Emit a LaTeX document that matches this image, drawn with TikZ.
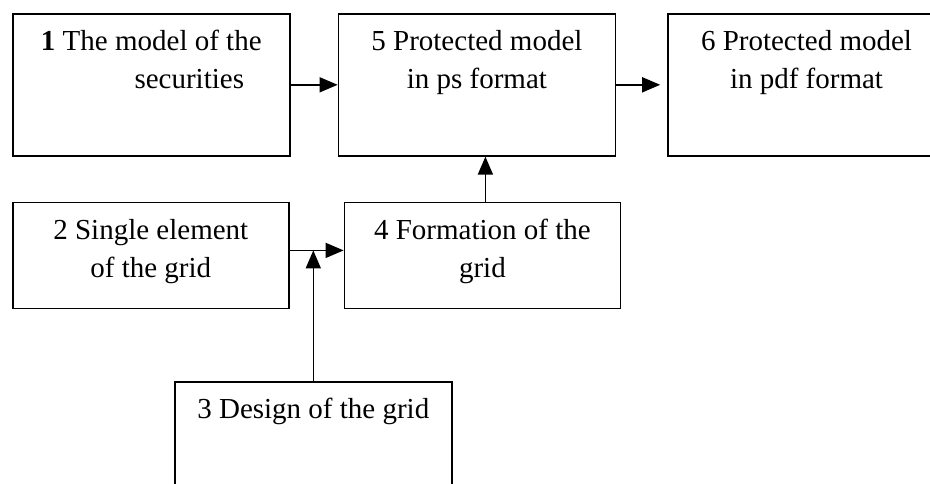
\documentclass[tikz,border=0pt]{standalone}
\usepackage{fontspec}
\setmainfont{Liberation Serif}
\usetikzlibrary{positioning,arrows.meta}
\tikzset{%
  block/.style = {rectangle,draw,line width=0.8pt,minimum width=138.5pt,
        minimum height=71pt,inner sep=0pt,anchor=north west},
  lowblock/.style = {block,minimum width=138pt,minimum height=53pt},
  intext/.style = {anchor=north,inner sep=0pt,yshift=-8.5pt,align=center,
        font=\fontsize{14.5pt}{19pt}\selectfont},
  flowarrow/.style = {-{Triangle[length=9pt,width=7.5pt]},line width=0.8pt}
}
\begin{document}
\begin{tikzpicture}
\useasboundingbox (0,0) rectangle (465pt,-241.5pt);
\node[block,label={[intext]north:{\textbf{1} The model of the\\\hspace*{38pt}securities}}] (model) at (6pt,-6.5pt) {};
\node[block,right=23.5pt of model,label={[intext]north:{5 Protected model\\in ps format}}] (psmodel) {};
\node[block,right=25.5pt of psmodel,label={[intext]north:{6 Protected model\\in pdf format}}] (pdfmodel) {};
\node[lowblock,below=22.5pt of model.south west,anchor=north west,label={[intext]north:{2 Single element\\of the grid}}] (element) {};
\node[lowblock,right=27pt of element,label={[intext]north:{4 Formation of the\\grid}}] (formation) {};
\node[lowblock,minimum width=138.5pt,label={[intext]north:{3 Design of the grid}}] (design) at (87pt,-190.5pt) {};
\coordinate (join) at ([yshift=2.5pt]element.east);
\draw[flowarrow] (model) -- (psmodel);
\draw[flowarrow] (psmodel) -- ([xshift=-3.5pt]pdfmodel.west);
\draw[flowarrow] ([xshift=1.5pt]formation.north) -- ([xshift=1.5pt]formation.north |- psmodel.south);
\draw[flowarrow] (join) -- ([yshift=2.5pt]formation.west);
\draw[flowarrow] (design) -- (design.north |- join);
\end{tikzpicture}
\end{document}
